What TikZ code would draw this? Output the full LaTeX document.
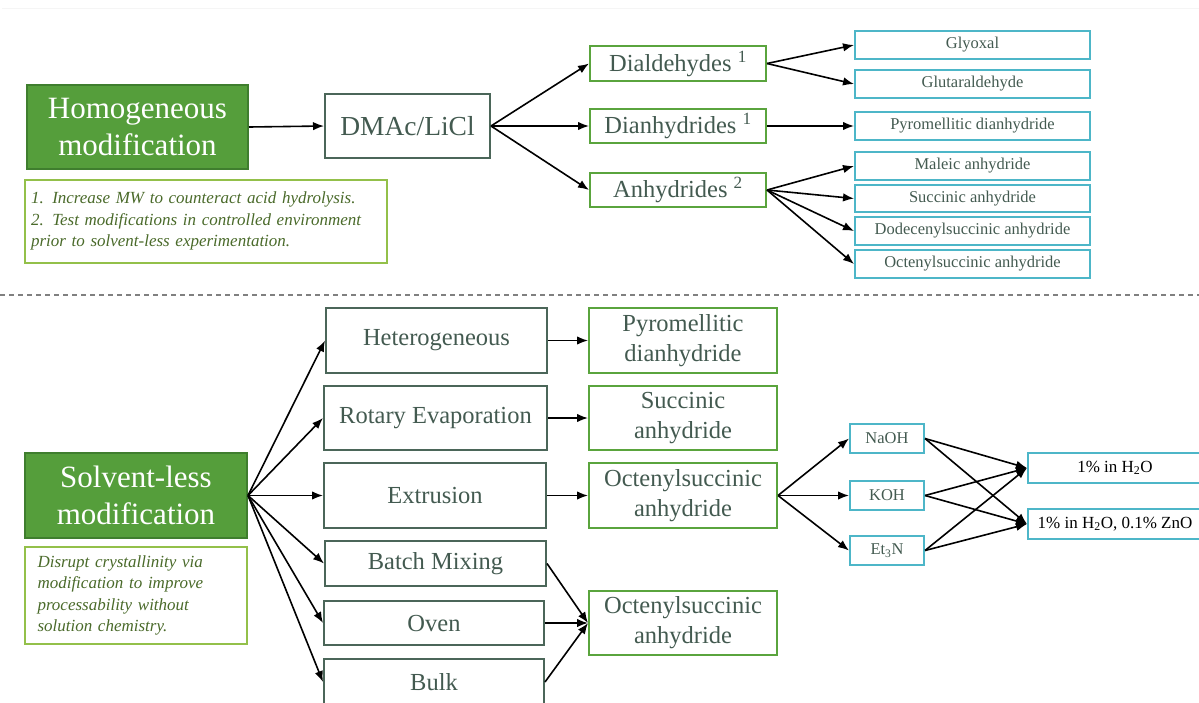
\documentclass[tikz,border=0pt]{standalone}
\usepackage{fontspec}
\setmainfont{Liberation Serif}
\usetikzlibrary{arrows.meta}
\definecolor{txt}{HTML}{435A50}
\definecolor{dborder}{HTML}{4B6659}
\definecolor{mgreen}{HTML}{559E3B}
\definecolor{mgreenb}{HTML}{3F7E2E}
\definecolor{lgreen}{HTML}{5AA43D}
\definecolor{ngreen}{HTML}{93C04A}
\definecolor{ntxt}{HTML}{4A6A2A}
\definecolor{cyanb}{HTML}{4DB6C8}
\tikzset{
  base/.style={rectangle, draw, line width=2pt, inner sep=0pt, align=center, text=txt},
  mainbox/.style={base, fill=mgreen, draw=mgreenb, text=white, font=\fontsize{31}{37}\selectfont},
  dbox/.style={base, draw=dborder, font=\fontsize{24.5}{30}\selectfont},
  gbox/.style={base, draw=lgreen, font=\fontsize{24.5}{30}\selectfont},
  cbox/.style={base, draw=cyanb, font=\fontsize{16.5}{20}\selectfont},
  kbox/.style={base, draw=cyanb, text=black, font=\fontsize{17}{20}\selectfont},
  notebox/.style={base, draw=ngreen, text=ntxt, align=left, font=\itshape\fontsize{17}{21.2}\selectfont},
  arr/.style={-{Latex[length=11pt,width=8.5pt]}, line width=1.6pt, black}
}
\begin{document}
\begin{tikzpicture}[x=1pt,y=-1pt]
\useasboundingbox (0,0) rectangle (1199,702);
\clip (0,0) rectangle (1199,702);
\draw[line width=1.5pt, color=black!4] (2,8.5) -- (1199,8.5);
% ---------- top half ----------
\node[mainbox, minimum width=221, minimum height=84] (homo) at (137.5,127) {Homogeneous\\modification};
\node[notebox, minimum width=362, minimum height=83, text width=350] (note1) at (206,221)
 {1. Increase MW to counteract acid hydrolysis.\\2. Test modifications in controlled environment\\prior to solvent-less experimentation.};
\node[dbox, minimum width=165, minimum height=64, font=\fontsize{27.5}{32}\selectfont] (dmac) at (407.5,126) {DMAc/LiCl};
\node[gbox, minimum width=176, minimum height=35] (dial) at (678,63.5) {Dialdehydes \textsuperscript{1}};
\node[gbox, minimum width=176, minimum height=34] (dian) at (678,126) {Dianhydrides \textsuperscript{1}};
\node[gbox, minimum width=176, minimum height=34] (anh) at (678,190) {Anhydrides \textsuperscript{2}};
\node[cbox, minimum width=235, minimum height=28] (gly) at (972.5,45) {Glyoxal};
\node[cbox, minimum width=235, minimum height=28] (glu) at (972.5,84) {Glutaraldehyde};
\node[cbox, minimum width=235, minimum height=28] (pmda) at (972.5,126) {Pyromellitic dianhydride};
\node[cbox, minimum width=235, minimum height=28] (mal) at (972.5,166) {Maleic anhydride};
\node[cbox, minimum width=235, minimum height=27] (suc) at (972.5,198.5) {Succinic anhydride};
\node[cbox, minimum width=235, minimum height=28] (dod) at (972.5,231) {Dodecenylsuccinic anhydride};
\node[cbox, minimum width=235, minimum height=28] (oct) at (972.5,264) {Octenylsuccinic anhydride};
\draw[arr] (homo.east) -- (dmac.west);
\draw[arr] (dmac.east) -- (dial.west);
\draw[arr] (dmac.east) -- (dian.west);
\draw[arr] (dmac.east) -- (anh.west);
\draw[arr] (dial.east) -- (gly.west);
\draw[arr] (dial.east) -- (glu.west);
\draw[arr] (dian.east) -- (pmda.west);
\draw[arr] (anh.east) -- (mal.west);
\draw[arr] (anh.east) -- (suc.west);
\draw[arr] (anh.east) -- (dod.west);
\draw[arr] (anh.east) -- (oct.west);
% ---------- divider ----------
\draw[line width=1.5pt, color=black!50, dash pattern=on 5pt off 4pt] (0,295) -- (1199,295);
% ---------- bottom half ----------
\node[mainbox, minimum width=222, minimum height=85] (solv) at (136,495.5) {Solvent-less\\modification};
\node[notebox, minimum width=222, minimum height=97, text width=197] (note2) at (136,595.5)
 {Disrupt crystallinity via\\modification to improve\\processability without\\solution chemistry.};
\node[dbox, minimum width=221, minimum height=65] (het) at (436.5,340.5) {Heterogeneous};
\node[dbox, minimum width=223, minimum height=64] (rot) at (435.5,418) {Rotary Evaporation};
\node[dbox, minimum width=222, minimum height=65] (ext) at (435,495.5) {Extrusion};
\node[dbox, minimum width=221, minimum height=45] (bat) at (435.5,563.5) {Batch Mixing};
\node[dbox, minimum width=220, minimum height=44] (ove) at (434,623) {Oven};
\node[dbox, minimum width=220, minimum height=46] (bul) at (434,682) {Bulk};
\node[gbox, minimum width=188, minimum height=65] (p2) at (683,340.5) {Pyromellitic\\dianhydride};
\node[gbox, minimum width=188, minimum height=64] (s2) at (683,418) {Succinic\\anhydride};
\node[gbox, minimum width=188, minimum height=65] (o1) at (683,495.5) {Octenylsuccinic\\anhydride};
\node[gbox, minimum width=188, minimum height=64] (o2) at (683,623) {Octenylsuccinic\\anhydride};
\node[cbox, minimum width=74, minimum height=29] (naoh) at (887,438.5) {NaOH};
\node[cbox, minimum width=74, minimum height=29] (koh) at (887,495.5) {KOH};
\node[cbox, minimum width=74, minimum height=29] (et) at (887,550.5) {Et\textsubscript{3}N};
\node[kbox, minimum width=174, minimum height=30] (w1) at (1115,468) {1\% in H\textsubscript{2}O};
\node[kbox, minimum width=174, minimum height=30] (w2) at (1115,524) {1\% in H\textsubscript{2}O, 0.1\% ZnO};
\foreach \t in {het,rot,ext,bat,ove,bul} \draw[arr] (solv.east) -- (\t.west);
\draw[arr] (het.east) -- (p2.west);
\draw[arr] (rot.east) -- (s2.west);
\draw[arr] (ext.east) -- (o1.west);
\draw[arr] (bat.east) -- (o2.west);
\draw[arr] (ove.east) -- (o2.west);
\draw[arr] (bul.east) -- (o2.west);
\draw[arr] (o1.east) -- (naoh.west);
\draw[arr] (o1.east) -- (koh.west);
\draw[arr] (o1.east) -- (et.west);
\foreach \s in {naoh,koh,et} {
  \draw[arr] (\s.east) -- (w1.west);
  \draw[arr] (\s.east) -- (w2.west);
}
\end{tikzpicture}
\end{document}
